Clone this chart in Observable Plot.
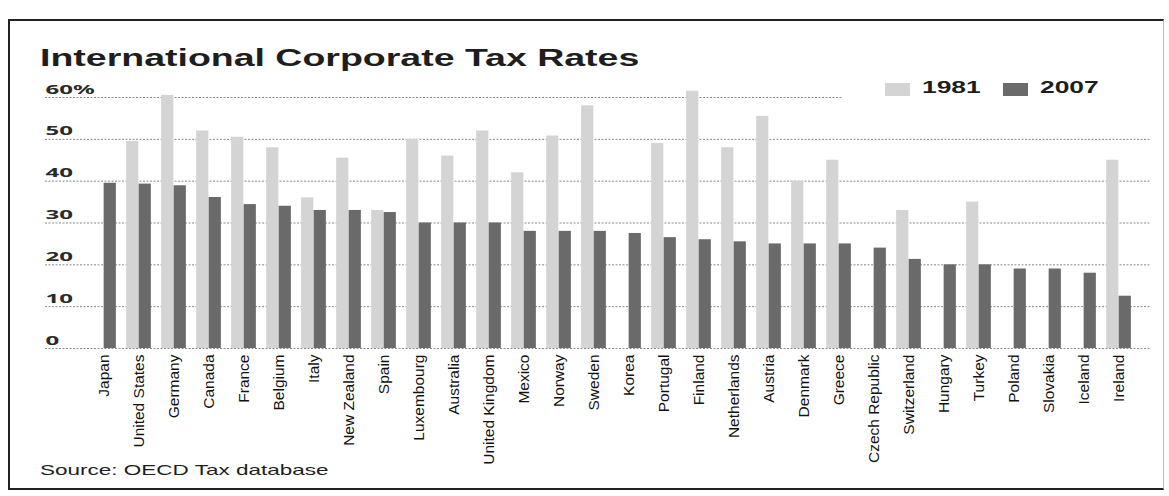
<!DOCTYPE html>
<html>
<head>
<meta charset="utf-8">
<script src="https://cdn.jsdelivr.net/npm/d3@7"></script>
<script src="https://cdn.jsdelivr.net/npm/@observablehq/plot@0.6"></script>
<style>
  html, body { margin: 0; padding: 0; background: #fff; }
  #wrap { position: relative; width: 1169px; height: 496px; overflow: hidden; background: #fff; font-family: "Liberation Sans", Arial, sans-serif; }
  #frame { position: absolute; left: 8px; top: 19px; width: 1156px; height: 471px; border: 2px solid #222; border-right: 1px solid #bbb; box-sizing: border-box; pointer-events: none; }
  #chart { position: absolute; left: 0; top: 0; }
  .stretch { position: absolute; white-space: nowrap; transform-origin: 0 0; color: #1e1e1e; }
  #title { left: 40px; top: 45px; font-size: 23px; font-weight: bold; transform: scaleX(1.63); }
  #caption { left: 40px; top: 461px; font-size: 15px; transform: scaleX(1.5); }
  #legend { position: absolute; left: 842px; top: 76px; width: 310px; height: 28px; background: #fff; }
  .sw { position: absolute; top: 7px; width: 25px; height: 13px; }
  .lt { position: absolute; top: 3px; font-size: 16px; font-weight: bold; transform: scaleX(1.65); transform-origin: 0 0; color: #1e1e1e; }
</style>
</head>
<body>
<div id="wrap">
  <div id="chart"></div>
  <div id="legend"></div>
  <div id="title" class="stretch"></div>
  <div id="caption" class="stretch"></div>
  <div id="frame"></div>
</div>
<script>
const titleText = "International Corporate Tax Rates";
const captionText = "Source: OECD Tax database";
const countries = ["Japan","United States","Germany","Canada","France","Belgium","Italy","New Zealand","Spain","Luxembourg","Australia","United Kingdom","Mexico","Norway","Sweden","Korea","Portugal","Finland","Netherlands","Austria","Denmark","Greece","Czech Republic","Switzerland","Hungary","Turkey","Poland","Slovakia","Iceland","Ireland"];
const rates1981 = [null,49.5,60.5,52,50.5,48,36,45.5,33,50,46,52,42,50.8,58,null,49,61.5,48,55.5,40,45,null,33,null,35,null,null,null,45];
const rates2007 = [39.5,39.3,38.9,36.1,34.4,34,33,33,32.5,30,30,30,28,28,28,27.5,26.5,26,25.5,25,25,25,24,21.3,20,20,19,19,18,12.5];
const series = ["1981","2007"];
const yTicks = [0,10,20,30,40,50,60];

const colors = {"1981": "#d4d4d4", "2007": "#6a6a6a"};

const d81 = countries.map((c,i) => ({country: c, value: rates1981[i]})).filter(d => d.value != null);
const d07 = countries.map((c,i) => ({country: c, value: rates2007[i]}));

const width = 1169, height = 470;
const marginLeft = 45, marginRight = 19;
const paddingOuter = 0.652;
const step = (width - marginLeft - marginRight) / (countries.length + 2 * paddingOuter);
const barW = 12.5;
const half = step / 2;

const chart = Plot.plot({
  width, height,
  marginLeft, marginRight, marginTop: 97, marginBottom: 122,
  style: {background: "transparent", color: "#222"},
  x: {domain: countries, paddingInner: 0, paddingOuter, align: 0.75, label: null},
  y: {domain: [0, 60], label: null},
  marks: [
    Plot.gridY(yTicks, {stroke: "#8a8a8a", strokeOpacity: 1, strokeDasharray: "2,1.5", strokeWidth: 1}),
    Plot.barY(d81, {x: "country", y: "value", fill: colors["1981"], insetLeft: half - barW, insetRight: half}),
    Plot.barY(d07, {x: "country", y: "value", fill: colors["2007"], insetLeft: half, insetRight: half - barW}),
    Plot.axisY(yTicks, {tickSize: 0, tickPadding: 0, textAnchor: "start", lineAnchor: "bottom", dy: -4,
      tickFormat: d => d === 60 ? "60%" : String(d), fontSize: 13, fontWeight: "bold", fill: "#2a2a2a"}),
    Plot.axisX({tickSize: 0, tickPadding: 6, tickRotate: -90, fontSize: 15.5,
      fontFamily: "'Liberation Sans Narrow', 'Arial Narrow', sans-serif", fill: "#111"})
  ]
});
document.getElementById("chart").appendChild(chart);

// widen the y tick labels like the scanned original
d3.select(chart).selectAll('g[aria-label="y-axis tick label"] text').each(function() {
  const t = this.getAttribute("transform") || "";
  this.setAttribute("transform", t + " scale(1.85,1)");
});

document.getElementById("title").textContent = titleText;
document.getElementById("caption").textContent = captionText;

const legend = document.getElementById("legend");
const legendPos = [{sw: 43, tx: 80}, {sw: 161, tx: 198}];
series.forEach((s, i) => {
  const sw = document.createElement("div");
  sw.className = "sw"; sw.style.left = legendPos[i].sw + "px"; sw.style.background = colors[s];
  legend.appendChild(sw);
  const tx = document.createElement("div");
  tx.className = "lt"; tx.style.left = legendPos[i].tx + "px"; tx.textContent = s;
  legend.appendChild(tx);
});
</script>
</body>
</html>
